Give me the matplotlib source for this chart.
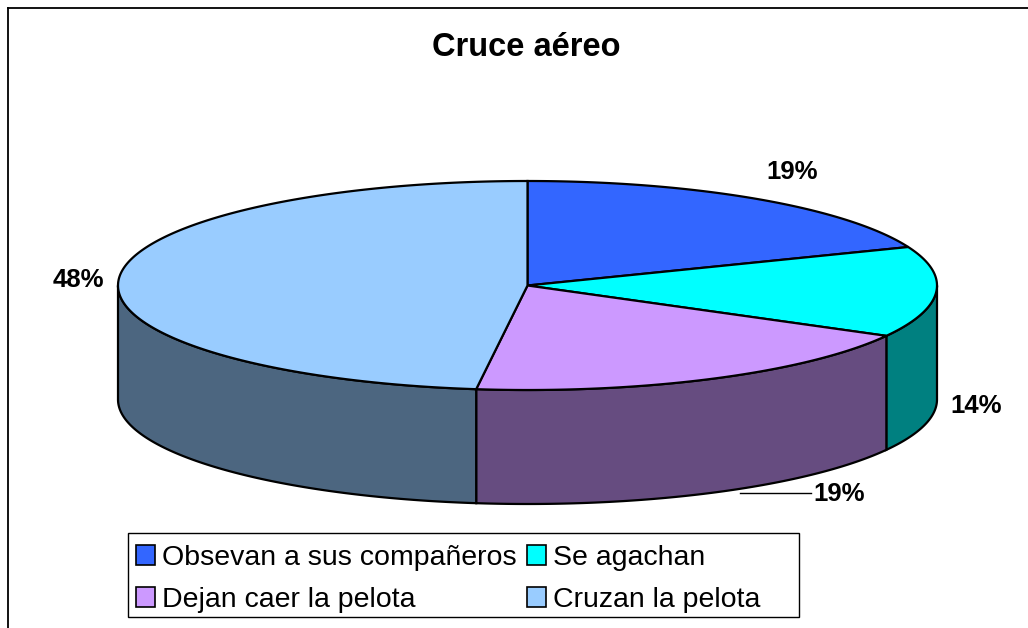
import numpy as np
import matplotlib.pyplot as plt
from matplotlib.patches import Polygon, Patch, Rectangle

plt.rcParams['font.family'] = ['Liberation Sans', 'DejaVu Sans']

# datos
categorias = ["Obsevan a sus compañeros", "Se agachan", "Dejan caer la pelota", "Cruzan la pelota"]
porcentajes = [19, 14, 19, 48]
colores_tapa = ["#3366FF", "#00FFFF", "#CC99FF", "#99CCFF"]
colores_lado = ["#1A3380", "#008080", "#664C80", "#4C6680"]

# geometria del pastel (pixeles)
cx, cy = 527.5, 285.5
rx, ry = 409.5, 104.5
prof = 114

# desplazamientos de etiquetas: (dx, dy, ha, cara, linea)
etiq = [(34, -27, "center", "top", False),
        (14, 0, "left", "bottom", False),
        (100, 1, "left", "bottom", True),
        (-15, 1, "right", "top", False)]

fig = plt.figure(figsize=(10.28, 6.28), dpi=100)
ax = fig.add_axes([0, 0, 1, 1])
ax.set_xlim(0, 1028)
ax.set_ylim(628, 0)
ax.axis("off")


def punto(t):
    # t en grados, desde arriba en sentido horario
    r = np.radians(t)
    return cx + rx * np.sin(r), cy - ry * np.cos(r)


total = sum(porcentajes)
limites = np.concatenate([[0], np.cumsum(porcentajes) / total * 360])

# paredes (solo mitad frontal: 90..270)
for i in range(len(porcentajes)):
    a0, a1 = max(limites[i], 90), min(limites[i + 1], 270)
    if a1 <= a0:
        continue
    t = np.linspace(a0, a1, 100)
    xs, ys = punto(t)
    pts = np.column_stack([np.concatenate([xs, xs[::-1]]),
                           np.concatenate([ys, ys[::-1] + prof])])
    ax.add_patch(Polygon(pts, closed=True, facecolor=colores_lado[i],
                         edgecolor="black", linewidth=1.6, zorder=2))

# tapas
for i in range(len(porcentajes)):
    t = np.linspace(limites[i], limites[i + 1], 200)
    xs, ys = punto(t)
    pts = np.column_stack([np.concatenate([[cx], xs]), np.concatenate([[cy], ys])])
    ax.add_patch(Polygon(pts, closed=True, facecolor=colores_tapa[i],
                         edgecolor="black", linewidth=1.6, zorder=3))

# etiquetas
for i, p in enumerate(porcentajes):
    dx, dy, ha, cara, linea = etiq[i]
    m = (limites[i] + limites[i + 1]) / 2
    x0, y0 = punto(m)
    if cara == "bottom":
        y0 = y0 + prof
    if linea:
        ax.plot([x0 + 27, x0 + dx - 2], [y0, y0], color="black", linewidth=1, zorder=4)
    ax.text(x0 + dx, y0 + dy, f"{p}%", ha=ha, va="center", fontsize=18.5,
            fontweight="bold", zorder=5)

ax.text(526, 48, "Cruce aéreo", ha="center", va="center", fontsize=23.5, fontweight="bold")

# marco (solo superior e izquierdo visibles)
ax.plot([7.5, 1028], [7.5, 7.5], color="black", linewidth=1.3, clip_on=False)
ax.plot([7.5, 7.5], [7.5, 628], color="black", linewidth=1.3, clip_on=False)

# leyenda: marco propio + entradas
ax.add_patch(Rectangle((127.5, 533), 671.5, 84, facecolor="white",
                       edgecolor="black", linewidth=1.0, zorder=5))
orden = [0, 2, 1, 3]
handles = [Patch(facecolor=colores_tapa[i], edgecolor="black", linewidth=1.2) for i in orden]
labels = [categorias[i] for i in orden]
leg = fig.legend(handles, labels, ncol=2, loc="upper left",
                 bbox_to_anchor=(136 / 1028, 1 - 545 / 628),
                 fontsize=20.5, frameon=False,
                 handlelength=0.67, handleheight=0.67, handletextpad=0.25,
                 columnspacing=0.35, borderpad=0, labelspacing=0.56,
                 borderaxespad=0)
leg.set_zorder(6)

fig.savefig("out.png", dpi=100)
